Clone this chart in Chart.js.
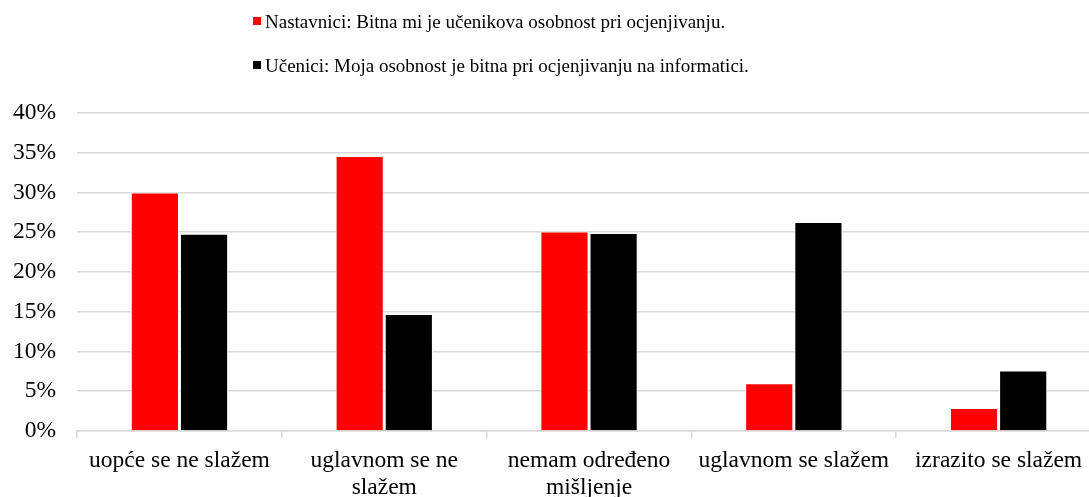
<!DOCTYPE html>
<html>
<head>
<meta charset="utf-8">
<script src="https://cdn.jsdelivr.net/npm/chart.js@4"></script>
<style>
  html, body { margin: 0; padding: 0; background: #fff; overflow: hidden; }
  #wrap { position: relative; width: 1109px; height: 510px; margin-left: -8px; }
  #legend { position: absolute; left: 261px; top: 8px; font-family: "Liberation Serif", "Times New Roman", serif; font-size: 19px; color: #000; }
  #legend div { height: 44px; line-height: 28px; white-space: nowrap; }
  #legend span.box { display: inline-block; width: 8px; height: 8px; margin-right: 4px; vertical-align: 3px; }
</style>
</head>
<body>
<div id="wrap">
  <canvas id="chart" width="1109" height="510"></canvas>
  <div id="legend"></div>
</div>
<script>
const categories = [
  'uopće se ne slažem',
  ['uglavnom se ne', 'slažem'],
  ['nemam određeno', 'mišljenje'],
  'uglavnom se slažem',
  'izrazito se slažem'
];
const nastavnici = [30.0, 34.6, 25.1, 6.0, 2.9];
const ucenici = [24.8, 14.7, 24.9, 26.3, 7.6];
const seriesLabels = [
  'Nastavnici: Bitna mi je učenikova osobnost pri ocjenjivanju.',
  'Učenici: Moja osobnost je bitna pri ocjenjivanju na informatici.'
];
const yTicks = [0, 5, 10, 15, 20, 25, 30, 35, 40];

const font = { family: '"Liberation Serif", "Times New Roman", serif', size: 23.5, lineHeight: 1.15 };

const data = {
  labels: categories,
  datasets: [{
    label: seriesLabels[0],
    data: nastavnici,
    backgroundColor: '#ff0000',
    borderColor: '#ffffff',
    borderWidth: 1
  }, {
    label: seriesLabels[1],
    data: ucenici,
    backgroundColor: '#000000',
    borderColor: '#ffffff',
    borderWidth: 1
  }]
};

const config = {
  type: 'bar',
  data: data,
  options: {
    responsive: false,
    animation: false,
    categoryPercentage: 0.48,
    barPercentage: 0.98,
    layout: { padding: { top: 113, left: 0, right: 0, bottom: 0 } },
    plugins: {
      legend: { display: false },
      tooltip: { enabled: false }
    },
    scales: {
      x: {
        grid: { drawOnChartArea: false, color: '#d9d9d9', lineWidth: 1.5, tickLength: 7 },
        border: { color: '#d9d9d9', width: 1.5 },
        ticks: { color: '#000', font: font, padding: 9, maxRotation: 0, autoSkip: false }
      },
      y: {
        min: 0,
        max: 40,
        afterBuildTicks: (axis) => { axis.ticks = yTicks.map(v => ({ value: v })); },
        grid: { color: '#d9d9d9', lineWidth: 1.5, drawTicks: false },
        border: { display: false },
        ticks: { color: '#000', font: font, padding: 21, callback: (v) => v + '%' }
      }
    }
  }
};

const myChart = new Chart(document.getElementById('chart'), config);

// html legend, stacked like the original
const legendEl = document.getElementById('legend');
myChart.data.datasets.forEach((ds) => {
  const row = document.createElement('div');
  const box = document.createElement('span');
  box.className = 'box';
  box.style.background = ds.backgroundColor;
  row.appendChild(box);
  row.appendChild(document.createTextNode(ds.label));
  legendEl.appendChild(row);
});
</script>
</body>
</html>
